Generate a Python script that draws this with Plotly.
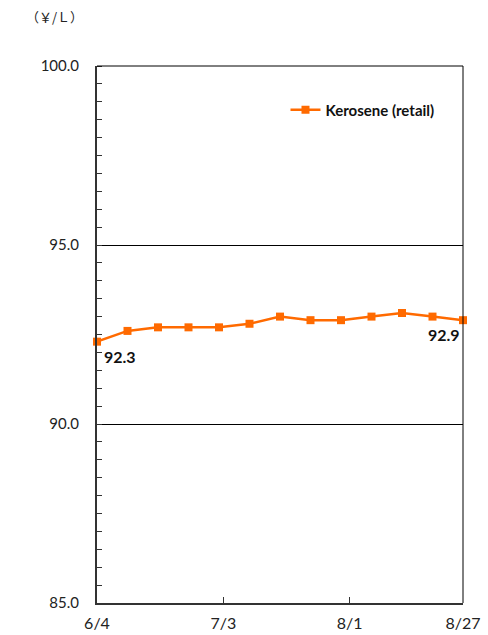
import plotly.graph_objects as go

# Weekly retail kerosene price survey (yen per litre)
dates = ["2018-06-04", "2018-06-11", "2018-06-18", "2018-06-25", "2018-07-02",
         "2018-07-09", "2018-07-16", "2018-07-23", "2018-07-30", "2018-08-06",
         "2018-08-13", "2018-08-20", "2018-08-27"]
kerosene = [92.3, 92.6, 92.7, 92.7, 92.7, 92.8, 93.0, 92.9, 92.9, 93.0, 93.1, 93.0, 92.9]

x_tick_dates = ["2018-06-04", "2018-07-03", "2018-08-01", "2018-08-27"]
x_tick_text = ["6/4", "7/3", "8/1", "8/27"]
y_ticks = [85, 90, 95, 100]

ORANGE = "#FF6A00"
FONT = "Lato"

fig = go.Figure()
fig.add_trace(go.Scatter(
    x=dates, y=kerosene, name="<b>Kerosene (retail)</b>",
    mode="lines+markers",
    line=dict(color=ORANGE, width=2.5),
    marker=dict(symbol="square", size=8, color=ORANGE),
    cliponaxis=False,
))

# value labels at the first and last survey points
fig.add_annotation(x=dates[0], y=kerosene[0], text=f"<b>{kerosene[0]:.1f}</b>",
                   showarrow=False, xanchor="left", yanchor="top",
                   xshift=5, yshift=-3, font=dict(size=16, color="#111", family=FONT))
fig.add_annotation(x=dates[-1], y=kerosene[-1], text=f"<b>{kerosene[-1]:.1f}</b>",
                   showarrow=False, xanchor="right", yanchor="top",
                   xshift=-1, yshift=-3, font=dict(size=16, color="#111", family=FONT))

# unit label
fig.add_annotation(xref="paper", yref="paper", x=-0.115, y=1.092,
                   xanchor="center", yanchor="middle", text="（￥/Ｌ）",
                   showarrow=False, font=dict(size=13, color="#222", family="Noto Sans CJK JP"))

# top and right frame lines
fig.add_shape(type="line", xref="paper", yref="paper", x0=0, x1=1, y0=1, y1=1,
              line=dict(color="#000", width=1))
fig.add_shape(type="line", xref="paper", yref="paper", x0=1, x1=1, y0=0, y1=1,
              line=dict(color="#000", width=1))

fig.update_layout(
    width=488, height=635,
    margin=dict(l=97, r=25, t=66, b=32),
    paper_bgcolor="white", plot_bgcolor="white",
    font=dict(family=FONT, size=14, color="#222"),
    showlegend=True,
    legend=dict(x=0.515, y=0.918, xanchor="left", yanchor="middle",
                bgcolor="rgba(0,0,0,0)",
                font=dict(size=15, color="#111", family=FONT),
                itemwidth=30),
    xaxis=dict(
        type="date", automargin=False,
        range=[dates[0], dates[-1]],
        tickmode="array", tickvals=x_tick_dates, ticktext=x_tick_text,
        ticks="inside", ticklen=6, tickcolor="#333",
        showgrid=False, zeroline=False,
        showline=True, linecolor="#333", linewidth=2,
        tickfont=dict(size=16, family=FONT, color="#222"),
        ticklabelstandoff=5,
    ),
    yaxis=dict(
        automargin=False,
        range=[85, 100],
        tickmode="array", tickvals=y_ticks, ticktext=[f"{v:.1f}" for v in y_ticks],
        ticks="", showgrid=True, gridcolor="#000", gridwidth=1,
        zeroline=False,
        showline=True, linecolor="#333", linewidth=2,
        tickfont=dict(size=15, family=FONT, color="#222"),
        ticklabelstandoff=13,
        minor=dict(dtick=0.5, tick0=85, ticks="inside", ticklen=5,
                   tickcolor="#333", showgrid=False),
    ),
)

fig.write_html("out.html")
